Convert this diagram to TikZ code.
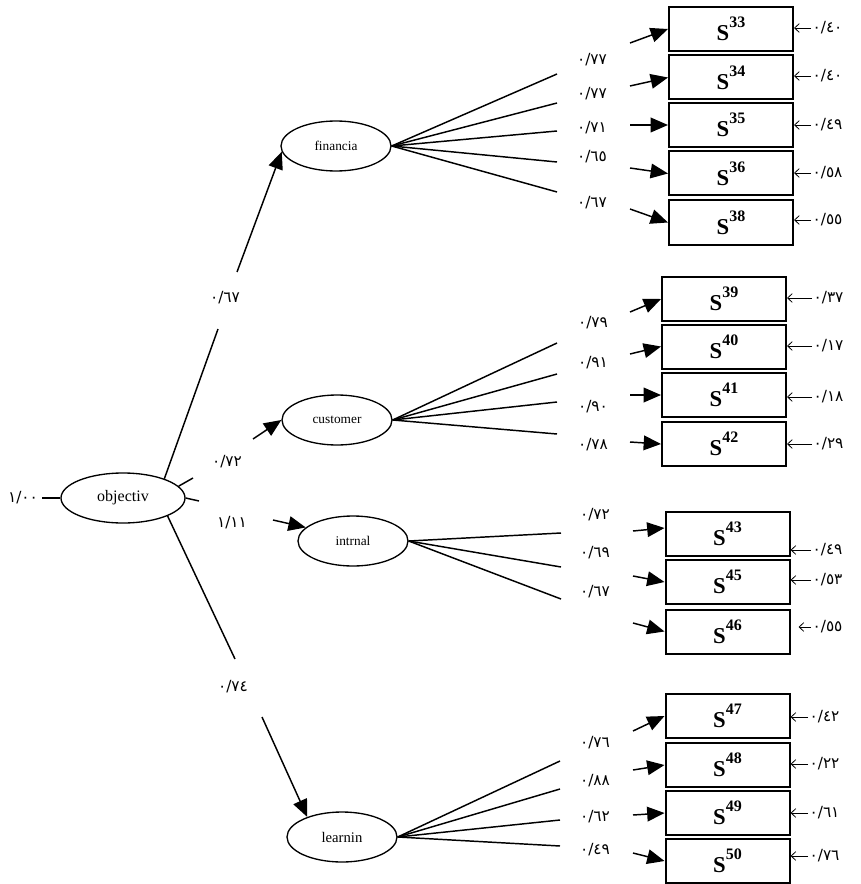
\documentclass[tikz,border=0pt]{standalone}
\usepackage{fontspec}
\setmainfont{Liberation Serif}
\newfontfamily\arabicfont[Script=Arabic]{DejaVu Sans}
\usetikzlibrary{shapes.geometric,arrows.meta}
\newcommand\Sv[1]{\textbf{S\raisebox{10pt}{\fontsize{12}{12}\selectfont #1}}}
\begin{document}
\begin{tikzpicture}[x=0.75pt,y=-0.75pt,
  lat/.style={draw, line width=1pt, ellipse, inner sep=0pt, minimum width=82.5pt, minimum height=37.5pt, font=\fontsize{10}{12}\selectfont},
  obs/.style={draw, line width=1.5pt, rectangle, inner sep=0pt, minimum width=93pt, minimum height=33pt, font=\fontsize{17}{17}\selectfont},
  num/.style={inner sep=1pt, font=\arabicfont\fontsize{11.5}{13}\selectfont},
  ln/.style={line width=1.1pt},
  big/.style={line width=1.1pt, -{Triangle[length=13pt,width=11pt]}},
  err/.style={line width=0.6pt, -{Straight Barb[length=3.5pt,width=6.5pt]}}]
\useasboundingbox (0,0) rectangle (860,884);

% latent variables
\node[lat, minimum width=93pt, font=\fontsize{12}{14}\selectfont] (obj) at (123,498) {objectiv};
\node[lat] (fin) at (336,146) {financia};
\node[lat] (cust) at (337,420) {customer};
\node[lat] (int) at (353,541) {intrnal};
\node[lat, font=\fontsize{11}{13}\selectfont] (learn) at (342,837) {learnin};

% observed boxes
\node[obs] (S33) at (731,29) {\Sv{33}};
\node[obs] (S34) at (731,77.5) {\Sv{34}};
\node[obs] (S35) at (731,125) {\Sv{35}};
\node[obs] (S36) at (731,173.5) {\Sv{36}};
\node[obs] (S38) at (731,222.5) {\Sv{38}};
\node[obs] (S39) at (724,299) {\Sv{39}};
\node[obs] (S40) at (724,346.5) {\Sv{40}};
\node[obs] (S41) at (724,395) {\Sv{41}};
\node[obs] (S42) at (724,444) {\Sv{42}};
\node[obs] (S43) at (727.5,534) {\Sv{43}};
\node[obs] (S45) at (727.5,582) {\Sv{45}};
\node[obs] (S46) at (727.5,631.5) {\Sv{46}};
\node[obs] (S47) at (727.5,716) {\Sv{47}};
\node[obs] (S48) at (727.5,765) {\Sv{48}};
\node[obs] (S49) at (727.5,813) {\Sv{49}};
\node[obs] (S50) at (727.5,861) {\Sv{50}};

% objectiv input
\node[num, inner sep=3pt] (l100) at (23,498) {١/٠٠};
\draw[ln] (l100.east) -- (obj.west);

% objectiv -> latent paths
\coordinate (ga) at (218,329);
\coordinate (gb) at (237,272);
\draw[ln] (obj.25) -- (ga);
\draw[big] (gb) -- (fin.186);
\node[num] (p67) at (225,298) {٠/٦٧};

\coordinate (s1) at (193,478);
\coordinate (s2) at (199,501);
\draw[ln] (obj.12) -- (s1);
\draw[ln] (obj.east) -- (s2);
\node[num] (p72) at (227,462) {٠/٧٢};
\node[num] (p111) at (232,523) {١/١١};
\coordinate (ca) at (253,439);
\draw[big] (ca) -- (cust.west);
\coordinate (ia) at (273,520);
\draw[big] (ia) -- (int.164);

\coordinate (la) at (235,659);
\coordinate (lb) at (262,717);
\draw[ln] (obj.-22) -- (la);
\draw[big] (lb) -- (learn.150);
\node[num] (p74) at (233,687) {٠/٧٤};

% financia fan
\foreach \y [count=\i] in {74,103,131,162,192} \coordinate (f\i) at (557,\y);
\foreach \i in {1,...,5} \draw[ln] (fin.east) -- (f\i);
\node[num] at (592,60) {٠/٧٧};
\node[num] at (592,94) {٠/٧٧};
\node[num] at (592,128) {٠/٧١};
\node[num] at (592,157) {٠/٦٥};
\node[num] at (592,203) {٠/٦٧};
\coordinate (fa1) at (630,43);
\coordinate (fa2) at (630,86);
\coordinate (fa3) at (630,125);
\coordinate (fa4) at (630,168);
\coordinate (fa5) at (630,209);
\draw[big] (fa1) -- (S33.west);
\draw[big] (fa2) -- (S34.west);
\draw[big] (fa3) -- (S35.west);
\draw[big] (fa4) -- (S36.west);
\draw[big] (fa5) -- (S38.west);

% customer fan
\foreach \y [count=\i] in {343,374,402,434} \coordinate (c\i) at (557,\y);
\foreach \i in {1,...,4} \draw[ln] (cust.east) -- (c\i);
\node[num] at (593,323) {٠/٧٩};
\node[num] at (593,363) {٠/٩١};
\node[num] at (593,407) {٠/٩٠};
\node[num] at (593,445) {٠/٧٨};
\coordinate (ca1) at (630,312);
\coordinate (ca2) at (630,354);
\coordinate (ca3) at (630,395);
\coordinate (ca4) at (630,442);
\draw[big] (ca1) -- (S39.west);
\draw[big] (ca2) -- (S40.west);
\draw[big] (ca3) -- (S41.west);
\draw[big] (ca4) -- (S42.west);

% intrnal fan
\foreach \y [count=\i] in {533,567,599} \coordinate (n\i) at (561,\y);
\foreach \i in {1,...,3} \draw[ln] (int.east) -- (n\i);
\node[num] at (595,515) {٠/٧٢};
\node[num] at (595,553) {٠/٦٩};
\node[num] at (595,592) {٠/٦٧};
\coordinate (na1) at (633,531);
\coordinate (na2) at (633,576);
\coordinate (na3) at (633,623);
\draw[big] (na1) -- ([yshift=4.5pt]S43.west);
\draw[big] (na2) -- (S45.west);
\draw[big] (na3) -- (S46.west);

% learnin fan
\foreach \y [count=\i] in {761,789,820,846} \coordinate (m\i) at (560,\y);
\foreach \i in {1,...,4} \draw[ln] (learn.east) -- (m\i);
\node[num] at (595,743) {٠/٧٦};
\node[num] at (595,781) {٠/٨٨};
\node[num] at (595,817) {٠/٦٢};
\node[num] at (595,850) {٠/٤٩};
\coordinate (ma1) at (633,731);
\coordinate (ma2) at (633,770);
\coordinate (ma3) at (633,815);
\coordinate (ma4) at (633,853);
\draw[big] (ma1) -- (S47.west);
\draw[big] (ma2) -- (S48.west);
\draw[big] (ma3) -- (S49.west);
\draw[big] (ma4) -- (S50.west);

% error terms
\node[num, anchor=west] (e33) at (811,28) {٠/٤٠};
\node[num, anchor=west] (e34) at (811,76) {٠/٤٠};
\node[num, anchor=west] (e35) at (811,125) {٠/٤٩};
\node[num, anchor=west] (e36) at (811,173) {٠/٥٨};
\node[num, anchor=west] (e38) at (811,220) {٠/٥٥};
\node[num, anchor=west] (e39) at (812,298) {٠/٣٧};
\node[num, anchor=west] (e40) at (812,346) {٠/١٧};
\node[num, anchor=west] (e41) at (812,397) {٠/١٨};
\node[num, anchor=west] (e42) at (812,444) {٠/٢٩};
\node[num, anchor=west] (e43) at (811,550) {٠/٤٩};
\node[num, anchor=west] (e45) at (811,580) {٠/٥٣};
\node[num, anchor=west] (e46) at (811,627) {٠/٥٥};
\node[num, anchor=west] (e47) at (808,717) {٠/٤٢};
\node[num, anchor=west] (e48) at (808,764) {٠/٢٢};
\node[num, anchor=west] (e49) at (808,813) {٠/٦١};
\node[num, anchor=west] (e50) at (808,856) {٠/٧٦};
\foreach \k in {33,34,35,36,38,39,40,41,42,43,45,47,48,49,50}
  \draw[err] (e\k.west) -- (e\k.west -| S\k.east);
\draw[err, shorten >=6pt] (e46.west) -- (e46.west -| S46.east);
\end{tikzpicture}
\end{document}
